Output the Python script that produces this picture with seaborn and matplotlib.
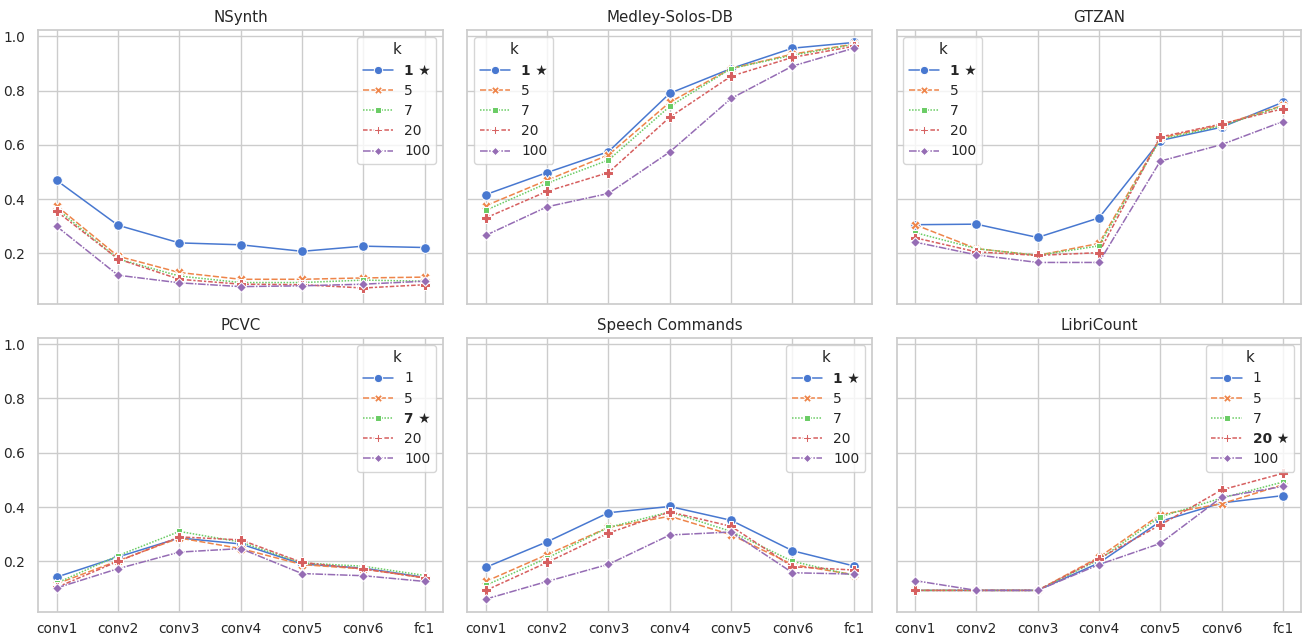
import numpy as np
import pandas as pd
import matplotlib
matplotlib.use("Agg")
import matplotlib.pyplot as plt
import seaborn as sns

layers = ["conv1", "conv2", "conv3", "conv4", "conv5", "conv6", "fc1"]
k_values = ["1", "5", "7", "20", "100"]

datasets = ["NSynth", "Medley-Solos-DB", "GTZAN", "PCVC", "Speech Commands", "LibriCount"]
best_k = {"NSynth": "1", "Medley-Solos-DB": "1", "GTZAN": "1",
          "PCVC": "7", "Speech Commands": "1", "LibriCount": "20"}

nsynth = {
    "1":   [0.469, 0.304, 0.239, 0.232, 0.208, 0.227, 0.222],
    "5":   [0.375, 0.190, 0.130, 0.105, 0.105, 0.110, 0.113],
    "7":   [0.365, 0.180, 0.117, 0.093, 0.093, 0.102, 0.098],
    "20":  [0.355, 0.180, 0.105, 0.087, 0.085, 0.073, 0.085],
    "100": [0.300, 0.120, 0.092, 0.078, 0.081, 0.087, 0.098],
}
medley = {
    "1":   [0.417, 0.498, 0.575, 0.790, 0.881, 0.956, 0.977],
    "5":   [0.376, 0.470, 0.563, 0.757, 0.881, 0.934, 0.971],
    "7":   [0.359, 0.459, 0.544, 0.742, 0.881, 0.930, 0.970],
    "20":  [0.331, 0.429, 0.498, 0.702, 0.853, 0.922, 0.963],
    "100": [0.267, 0.372, 0.421, 0.574, 0.771, 0.890, 0.956],
}
gtzan = {
    "1":   [0.306, 0.308, 0.259, 0.331, 0.616, 0.665, 0.757],
    "5":   [0.306, 0.218, 0.193, 0.237, 0.625, 0.674, 0.745],
    "7":   [0.277, 0.218, 0.193, 0.228, 0.620, 0.670, 0.743],
    "20":  [0.258, 0.206, 0.193, 0.203, 0.629, 0.677, 0.733],
    "100": [0.242, 0.195, 0.167, 0.167, 0.540, 0.601, 0.686],
}
pcvc = {
    "1":   [0.142, 0.216, 0.286, 0.264, 0.190, 0.175, 0.141],
    "5":   [0.117, 0.202, 0.286, 0.247, 0.188, 0.172, 0.139],
    "7":   [0.120, 0.221, 0.310, 0.271, 0.194, 0.182, 0.148],
    "20":  [0.104, 0.200, 0.290, 0.279, 0.196, 0.172, 0.139],
    "100": [0.102, 0.173, 0.234, 0.247, 0.155, 0.147, 0.126],
}
speech = {
    "1":   [0.178, 0.272, 0.379, 0.402, 0.351, 0.239, 0.183],
    "5":   [0.126, 0.225, 0.325, 0.366, 0.298, 0.188, 0.151],
    "7":   [0.112, 0.212, 0.325, 0.382, 0.310, 0.200, 0.148],
    "20":  [0.093, 0.196, 0.304, 0.382, 0.329, 0.180, 0.168],
    "100": [0.061, 0.126, 0.189, 0.297, 0.308, 0.158, 0.153],
}
libricount = {
    "1":   [0.093, 0.093, 0.093, 0.194, 0.347, 0.415, 0.442],
    "5":   [0.093, 0.093, 0.093, 0.215, 0.372, 0.412, 0.482],
    "7":   [0.093, 0.093, 0.093, 0.206, 0.364, 0.433, 0.492],
    "20":  [0.093, 0.093, 0.093, 0.210, 0.334, 0.463, 0.524],
    "100": [0.129, 0.093, 0.093, 0.188, 0.266, 0.436, 0.476],
}

scores = {"NSynth": nsynth, "Medley-Solos-DB": medley, "GTZAN": gtzan,
          "PCVC": pcvc, "Speech Commands": speech, "LibriCount": libricount}
legend_loc = {"NSynth": "upper right", "Medley-Solos-DB": "upper left",
              "GTZAN": "upper left", "PCVC": "upper right",
              "Speech Commands": "upper right", "LibriCount": "upper right"}

sns.set_theme(style="whitegrid", palette="muted", font_scale=0.9)

fig, axes = plt.subplots(2, 3, figsize=(13.02, 6.39), dpi=100,
                         sharex=True, sharey=True)
fig.subplots_adjust(left=0.0294, right=0.9995, bottom=0.043, top=0.953,
                    wspace=0.06, hspace=0.125)

for ax, name in zip(axes.flat, datasets):
    rows = []
    for k in k_values:
        for layer, v in zip(layers, scores[name][k]):
            rows.append({"layer": layer, "k": k, "score": v})
    df = pd.DataFrame(rows)
    sns.lineplot(data=df, x="layer", y="score", hue="k", style="k",
                 hue_order=k_values, style_order=k_values,
                 markers=True, dashes=True, ax=ax,
                 linewidth=1.1, markersize=7)
    ax.set_title(name)
    ax.set_xlabel("")
    ax.set_ylabel("")
    ax.tick_params(axis="x", pad=1.5)
    leg = ax.legend(title="k", loc=legend_loc[name], labelspacing=0.45,
                    handlelength=2.2)
    for handle in leg.legend_handles:
        handle.set_markersize(6)
    for txt in leg.get_texts():
        if txt.get_text() == best_k[name]:
            txt.set_text(best_k[name] + " \u2605")
            txt.set_fontweight("bold")

axes[0, 0].set_yticks([0.2, 0.4, 0.6, 0.8, 1.0])
fig.savefig("out.png", dpi=100)
